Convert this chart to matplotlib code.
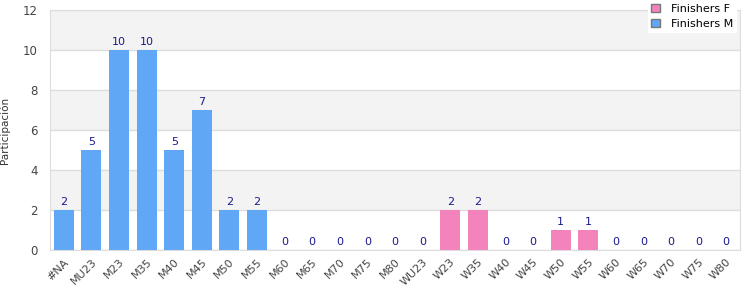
import matplotlib
matplotlib.use("Agg")
import matplotlib.pyplot as plt
from matplotlib.patches import Patch
import numpy as np

categories = ["#NA", "MU23", "M23", "M35", "M40", "M45", "M50", "M55", "M60", "M65",
              "M70", "M75", "M80", "WU23", "W23", "W35", "W40", "W45", "W50", "W55",
              "W60", "W65", "W70", "W75", "W80"]
values = [2, 5, 10, 10, 5, 7, 2, 2, 0, 0, 0, 0, 0, 0, 2, 2, 0, 0, 1, 1, 0, 0, 0, 0, 0]
series = ["M"] * 14 + ["F"] * 11

color_m = "#60a8f5"
color_f = "#f383bb"

fig = plt.figure(figsize=(7.5, 3.0), dpi=100)
ax = fig.add_axes([50/750, 50/300, 690/750, 240/300])

x = np.arange(len(categories))
colors = [color_m if s == "M" else color_f for s in series]
ax.bar(x, values, width=0.72, color=colors, zorder=3)

for xi, v in zip(x, values):
    ax.text(xi, v + 0.15, str(v), ha="center", va="bottom", fontsize=8,
            color="#1a1a8c", zorder=4)

ax.set_xlim(-0.5, len(categories) - 0.5)
ax.set_ylim(0, 12)
ax.set_yticks(range(0, 13, 2))
for lo in (2, 6, 10):
    ax.axhspan(lo, lo + 2, color="#f3f3f3", zorder=0, lw=0)
ax.grid(axis="y", color="#dddddd", lw=1, zorder=1)
ax.set_axisbelow(True)

ax.set_xticks(x)
ax.set_xticklabels(categories, rotation=45, ha="right", rotation_mode="anchor",
                   fontsize=8, color="#444444")
ax.tick_params(axis="y", labelsize=8.5, labelcolor="#444444", length=0, pad=9)
ax.tick_params(axis="x", length=0, pad=5)
for s in ax.spines.values():
    s.set_color("#dddddd")
ylab = ax.set_ylabel("Participación", fontsize=7.5, color="#333333", va="center")
ax.yaxis.set_label_coords(-0.065, 0.5)

handles = [Patch(facecolor=color_f, edgecolor="#777777", label="Finishers F"),
           Patch(facecolor=color_m, edgecolor="#777777", label="Finishers M")]
leg = fig.legend(handles=handles, loc="upper right", bbox_to_anchor=(737/750, 1.0),
                 fontsize=8, frameon=True, fancybox=False, handlelength=0.75,
                 handleheight=0.75, handletextpad=1.0, borderpad=0.35, labelspacing=0.45,
                 borderaxespad=0)
leg.get_frame().set_edgecolor("white")
leg.get_frame().set_facecolor("white")
leg.get_frame().set_alpha(1)
leg.get_frame().set_linewidth(0)

fig.savefig("out.png", dpi=100)
